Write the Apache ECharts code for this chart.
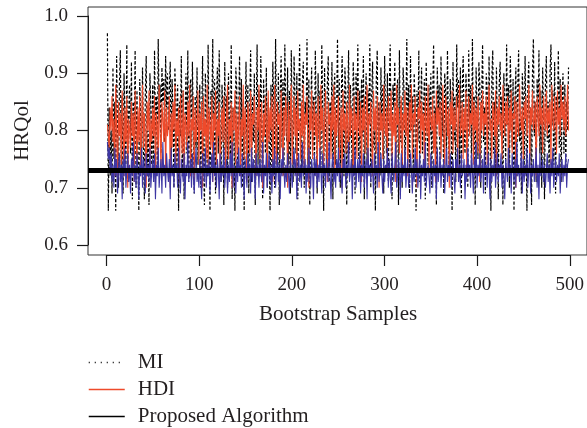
<!DOCTYPE html>
<html>
<head>
<meta charset="utf-8">
<script src="https://cdn.jsdelivr.net/npm/echarts@6/dist/echarts.min.js"></script>
<style>html,body{margin:0;padding:0;background:#fff}#c{width:587px;height:428px}</style>
</head>
<body>
<div id="c"></div>
<script>
var xTicks = [0, 100, 200, 300, 400, 500];
var yTicks = [0.6, 0.7, 0.8, 0.9, 1.0];
var trueValue = 0.73;
var seriesNames = ['MI', 'HDI', 'Proposed Algorithm'];

var miValues = [
.97,.66,.84,.72,.80,.69,.91,.75,.85,.66,.93,.78,.70,.88,.94,.73,.86,.69,.90,.81,.74,.95,.71,.83,.88,
.76,.92,.68,.85,.79,.94,.70,.87,.75,.66,.89,.82,.73,.91,.77,.68,.86,.93,.72,.80,.67,.90,.84,.74,.88,
.71,.94,.79,.86,.73,.96,.82,.88,.76,.91,.85,.89,.78,.93,.84,.90,.80,.87,.92,.75,.89,.83,.70,.91,.86,
.74,.88,.66,.85,.79,.93,.72,.87,.68,.82,.90,.76,.94,.71,.84,.89,.73,.92,.80,.69,.86,.77,.91,.74,.83,
.88,.70,.81,.93,.75,.67,.90,.84,.72,.95,.78,.66,.87,.82,.96,.73,.89,.69,.85,.91,.76,.94,.80,.71,.88,
.83,.67,.92,.77,.86,.70,.90,.81,.74,.95,.68,.84,.79,.66,.91,.87,.73,.82,.93,.76,.89,.70,.85,.66,.80,
.92,.75,.88,.69,.84,.94,.71,.86,.78,.90,.67,.82,.95,.74,.87,.72,.93,.80,.68,.89,.83,.76,.91,.70,.85,
.79,.66,.88,.73,.92,.84,.70,.96,.81,.75,.90,.67,.86,.93,.77,.89,.72,.95,.83,.78,.91,.74,.87,.69,.94,
.80,.71,.93,.86,.76,.90,.68,.84,.95,.79,.73,.88,.92,.70,.85,.81,.96,.74,.89,.67,.83,.91,.77,.86,.72,
.94,.82,.69,.90,.78,.87,.73,.95,.84,.66,.91,.80,.75,.88,.93,.71,.85,.79,.92,.68,.86,.90,.74,.83,.96,
.77,.89,.70,.85,.93,.81,.72,.91,.87,.67,.84,.94,.76,.88,.80,.73,.92,.86,.69,.90,.82,.95,.75,.87,.71,
.89,.79,.93,.68,.84,.90,.74,.87,.81,.95,.70,.86,.92,.77,.83,.66,.89,.94,.75,.85,.72,.91,.80,.88,.69,
.93,.83,.76,.90,.71,.86,.95,.79,.68,.88,.84,.92,.73,.81,.89,.67,.94,.78,.85,.70,.91,.87,.74,.82,.96,
.75,.88,.69,.93,.80,.86,.72,.90,.84,.66,.87,.78,.94,.71,.85,.91,.76,.83,.89,.68,.92,.81,.74,.88,.79,
.90,.70,.86,.95,.77,.84,.67,.91,.82,.88,.73,.93,.79,.85,.69,.90,.87,.75,.94,.80,.72,.89,.83,.66,.92,
.78,.86,.71,.95,.84,.89,.74,.91,.68,.87,.93,.80,.76,.90,.85,.70,.94,.82,.88,.73,.96,.79,.86,.67,.91,
.83,.75,.92,.88,.70,.86,.95,.78,.84,.69,.90,.87,.73,.93,.81,.66,.89,.94,.76,.85,.72,.91,.80,.68,.88,
.92,.79,.86,.67,.90,.83,.74,.95,.81,.88,.70,.93,.85,.77,.89,.66,.84,.91,.72,.87,.94,.78,.82,.69,.90,
.86,.73,.93,.80,.66,.88,.92,.75,.84,.67,.90,.96,.79,.85,.71,.89,.82,.94,.76,.87,.70,.91,.83,.68,.88,
.93,.78,.85,.72,.90,.95,.81,.87,.74,.92,.69,.86,.83,.94,.77,.89,.71,.84,.90,.76,.88,.73,.85,.80,.91
];

var hdiValues = [
.81,.79,.77,.84,.80,.86,.78,.82,.72,.88,.80,.71,.85,.79,.83,.74,.87,.81,.72,.84,.78,.86,.70,.82,.80,
.77,.85,.79,.83,.71,.87,.80,.74,.84,.78,.86,.72,.81,.88,.77,.83,.79,.70,.85,.80,.87,.73,.82,.78,.84,
.79,.86,.71,.83,.81,.75,.88,.80,.73,.85,.82,.78,.87,.72,.84,.79,.81,.86,.70,.83,.77,.85,.80,.88,.74,
.82,.79,.84,.71,.86,.80,.76,.87,.73,.83,.81,.77,.85,.79,.88,.72,.82,.80,.86,.71,.84,.78,.81,.87,.74,
.83,.80,.85,.70,.86,.79,.82,.75,.88,.73,.84,.81,.77,.86,.71,.83,.80,.87,.74,.82,.79,.85,.72,.81,.84,
.78,.86,.80,.73,.83,.88,.75,.82,.79,.85,.70,.84,.80,.87,.74,.83,.76,.81,.86,.72,.82,.79,.88,.75,.84,
.80,.71,.85,.82,.76,.87,.74,.83,.81,.86,.79,.72,.84,.80,.88,.75,.82,.85,.70,.83,.79,.86,.81,.73,.87,
.78,.84,.80,.86,.71,.82,.88,.79,.74,.85,.81,.83,.75,.87,.80,.72,.84,.79,.86,.82,.70,.85,.78,.83,.88,
.74,.81,.86,.79,.84,.72,.87,.80,.82,.75,.85,.79,.88,.73,.83,.81,.86,.76,.70,.84,.80,.87,.75,.82,.85,
.79,.83,.72,.86,.81,.76,.88,.80,.84,.74,.82,.87,.79,.71,.85,.81,.83,.75,.86,.80,.88,.73,.84,.79,.82,
.86,.75,.81,.84,.70,.87,.80,.83,.76,.85,.81,.74,.88,.79,.84,.82,.72,.86,.80,.83,.75,.87,.81,.79,.85,
.71,.84,.80,.86,.76,.82,.88,.74,.83,.81,.85,.79,.72,.87,.80,.84,.76,.86,.82,.70,.85,.80,.83,.75,.88,
.81,.79,.84,.73,.86,.82,.80,.87,.75,.83,.79,.85,.71,.88,.81,.84,.76,.82,.86,.74,.83,.80,.87,.79,.84,
.72,.82,.85,.80,.88,.75,.83,.81,.86,.79,.70,.84,.82,.87,.76,.85,.80,.83,.74,.86,.81,.79,.88,.73,.84,
.82,.80,.86,.76,.83,.71,.87,.81,.84,.79,.85,.75,.82,.88,.80,.74,.86,.83,.79,.84,.70,.85,.81,.87,.76,
.84,.80,.82,.86,.73,.83,.88,.79,.81,.85,.75,.84,.80,.87,.72,.82,.86,.79,.83,.81,.88,.74,.85,.80,.84,
.76,.86,.82,.71,.85,.80,.87,.79,.83,.81,.86,.74,.84,.88,.80,.82,.75,.85,.83,.79,.87,.72,.84,.81,.86,
.80,.83,.75,.88,.82,.79,.85,.81,.86,.73,.84,.80,.87,.76,.83,.82,.86,.70,.85,.81,.79,.88,.83,.80,.84,
.75,.85,.82,.86,.79,.83,.88,.74,.84,.81,.87,.80,.82,.85,.72,.86,.83,.79,.88,.81,.84,.76,.86,.82,.80,
.87,.79,.84,.81,.85,.74,.88,.82,.80,.86,.83,.76,.87,.81,.84,.79,.88,.82,.85,.80,.86,.79,.83,.88,.80
];

var proposedValues = [
.78,.75,.77,.73,.76,.71,.74,.70,.77,.72,.75,.69,.73,.76,.71,.74,.68,.75,.72,.77,.70,.73,.76,.71,.74,
.69,.75,.72,.78,.71,.74,.70,.76,.73,.68,.74,.72,.77,.70,.75,.73,.69,.76,.72,.74,.71,.77,.70,.73,.75,
.71,.76,.68,.74,.72,.77,.70,.73,.75,.69,.78,.72,.74,.70,.76,.73,.71,.75,.68,.77,.72,.74,.70,.76,.73,
.74,.70,.77,.72,.69,.75,.73,.71,.76,.68,.74,.72,.78,.71,.73,.75,.70,.76,.72,.69,.74,.77,.71,.73,.70,
.75,.72,.68,.76,.73,.71,.77,.70,.74,.72,.75,.69,.73,.76,.71,.78,.72,.74,.70,.75,.73,.68,.76,.71,.74,
.72,.77,.70,.73,.75,.69,.74,.71,.76,.72,.78,.70,.74,.73,.69,.75,.71,.77,.72,.74,.70,.76,.73,.68,.75,
.73,.70,.76,.72,.74,.69,.77,.71,.75,.73,.68,.76,.72,.74,.70,.75,.73,.71,.78,.69,.74,.72,.76,.70,.73,
.76,.71,.74,.69,.75,.72,.77,.70,.73,.76,.71,.74,.68,.75,.72,.77,.73,.70,.74,.71,.76,.72,.69,.75,.73,
.70,.74,.77,.72,.75,.68,.73,.76,.71,.74,.70,.78,.72,.73,.75,.69,.74,.71,.77,.72,.70,.75,.73,.68,.76,
.72,.75,.70,.74,.71,.77,.73,.69,.76,.72,.74,.70,.75,.73,.71,.78,.72,.68,.74,.76,.71,.73,.70,.75,.72,
.77,.71,.74,.72,.69,.75,.73,.76,.70,.74,.72,.78,.71,.73,.75,.68,.74,.72,.77,.70,.73,.75,.71,.76,.69,
.74,.72,.76,.70,.73,.75,.68,.77,.72,.74,.71,.75,.73,.69,.76,.72,.74,.70,.78,.71,.73,.76,.72,.69,.75,
.71,.74,.73,.77,.70,.75,.72,.69,.76,.73,.71,.74,.78,.70,.72,.75,.73,.68,.76,.71,.74,.72,.77,.70,.73,
.75,.70,.72,.76,.73,.69,.74,.71,.77,.72,.75,.70,.73,.76,.68,.74,.72,.75,.71,.78,.70,.73,.74,.72,.69,
.76,.73,.70,.75,.72,.74,.68,.77,.71,.73,.76,.70,.74,.72,.75,.69,.73,.77,.71,.74,.72,.76,.70,.73,.75,
.72,.69,.75,.73,.77,.71,.74,.70,.76,.72,.73,.75,.68,.74,.71,.77,.72,.74,.70,.76,.73,.69,.75,.72,.78,
.70,.74,.72,.76,.71,.73,.75,.69,.77,.72,.74,.70,.76,.73,.68,.75,.71,.74,.72,.77,.70,.73,.76,.71,.74,
.73,.76,.70,.74,.72,.68,.75,.73,.71,.77,.72,.74,.69,.76,.73,.71,.75,.70,.78,.72,.74,.71,.73,.76,.69,
.75,.71,.74,.72,.77,.70,.73,.76,.69,.74,.72,.75,.71,.73,.77,.70,.74,.68,.76,.72,.73,.75,.71,.74,.70,
.73,.76,.71,.74,.69,.75,.72,.77,.70,.73,.75,.71,.74,.72,.76,.69,.73,.75,.71,.74,.72,.76,.70,.74,.75
];

function toXY(arr) { return arr.map(function (v, i) { return [i + 1, v]; }); }

var FONT = '"Liberation Serif", "DejaVu Serif", serif';
var TXT = '#231f20';
var AX = '#1a1a1a';
var RED = '#ee4a2b';
var BLUE = '#3d36a3';

var chart = echarts.init(document.getElementById('c'), null, { renderer: 'canvas' });
chart.setOption({
  animation: false,
  backgroundColor: '#ffffff',
  grid: [
    { left: 88, top: 16, width: 481.5, height: 229, show: false },
    { left: 106.5, top: 7, width: 463.5, height: 248, show: false },
    { left: 88, top: 7, width: 501, height: 248, show: true, borderColor: '#333', borderWidth: 1, backgroundColor: 'transparent' }
  ],
  xAxis: [
    { gridIndex: 0, type: 'value', min: 0, max: 1, show: false },
    {
      gridIndex: 1, type: 'value', min: xTicks[0], max: xTicks[xTicks.length - 1], interval: 100, position: 'bottom',
      name: 'Bootstrap Samples', nameLocation: 'middle', nameGap: 49,
      nameTextStyle: { fontFamily: FONT, fontSize: 21, color: TXT },
      axisLine: { show: true, onZero: false, lineStyle: { color: AX, width: 1 } },
      axisTick: { show: true, inside: false, length: 11, lineStyle: { color: AX, width: 1.2 } },
      axisLabel: { show: true, margin: 21, fontFamily: FONT, fontSize: 19, color: TXT },
      splitLine: { show: false }
    },
    { gridIndex: 2, type: 'value', min: -20, max: 520, show: false }
  ],
  yAxis: [
    {
      gridIndex: 0, type: 'value', min: yTicks[0], max: yTicks[yTicks.length - 1], interval: 0.1, position: 'left',
      name: 'HRQol', nameLocation: 'middle', nameGap: 54,
      nameTextStyle: { fontFamily: FONT, fontSize: 21, color: TXT },
      axisLine: { show: true, onZero: false, lineStyle: { color: AX, width: 1 } },
      axisTick: { show: true, inside: false, length: 11, lineStyle: { color: AX, width: 1.2 } },
      axisLabel: { show: true, margin: 20, fontFamily: FONT, fontSize: 19, color: TXT,
        formatter: function (v) { return Number(v).toFixed(1); } },
      splitLine: { show: false }
    },
    { gridIndex: 1, type: 'value', min: 0, max: 1, show: false },
    { gridIndex: 2, type: 'value', min: 0.5825, max: 1.0157, show: false }
  ],
  legend: {
    orient: 'vertical', left: 88, top: 352, padding: 0,
    itemWidth: 36, itemHeight: 12, itemGap: 6,
    textStyle: { fontFamily: FONT, fontSize: 21, color: TXT, padding: [0, 0, 0, 8] },
    data: [
      { name: seriesNames[0], lineStyle: { type: [1, 5], width: 1.5, color: '#000' }, itemStyle: { opacity: 0 } },
      { name: seriesNames[1], lineStyle: { color: RED, width: 1.5, type: 'solid' }, itemStyle: { color: RED, opacity: 0 } },
      { name: seriesNames[2], lineStyle: { color: '#000', width: 1.5, type: 'solid' }, itemStyle: { color: '#000', opacity: 0 } }
    ]
  },
  series: [
    {
      name: seriesNames[0], type: 'line', xAxisIndex: 2, yAxisIndex: 2, data: toXY(miValues), symbol: 'none', z: 2,
      lineStyle: { color: '#000', width: 1.2, type: [3, 2] }, itemStyle: { color: '#000' }
    },
    {
      name: seriesNames[1], type: 'line', xAxisIndex: 2, yAxisIndex: 2, data: toXY(hdiValues), symbol: 'none', z: 3,
      lineStyle: { color: RED, width: 1.1 }, itemStyle: { color: RED }
    },
    {
      name: seriesNames[2], type: 'line', xAxisIndex: 2, yAxisIndex: 2, data: toXY(proposedValues), symbol: 'none', z: 4,
      lineStyle: { color: BLUE, width: 1.1 }, itemStyle: { color: BLUE }
    },
    {
      name: 'True value', type: 'line', xAxisIndex: 2, yAxisIndex: 2, data: [], z: 6, symbol: 'none',
      markLine: {
        silent: true, symbol: 'none', label: { show: false },
        lineStyle: { color: '#000', width: 5, type: 'solid' },
        data: [{ yAxis: trueValue }]
      }
    }
  ]
});
</script>
</body>
</html>
